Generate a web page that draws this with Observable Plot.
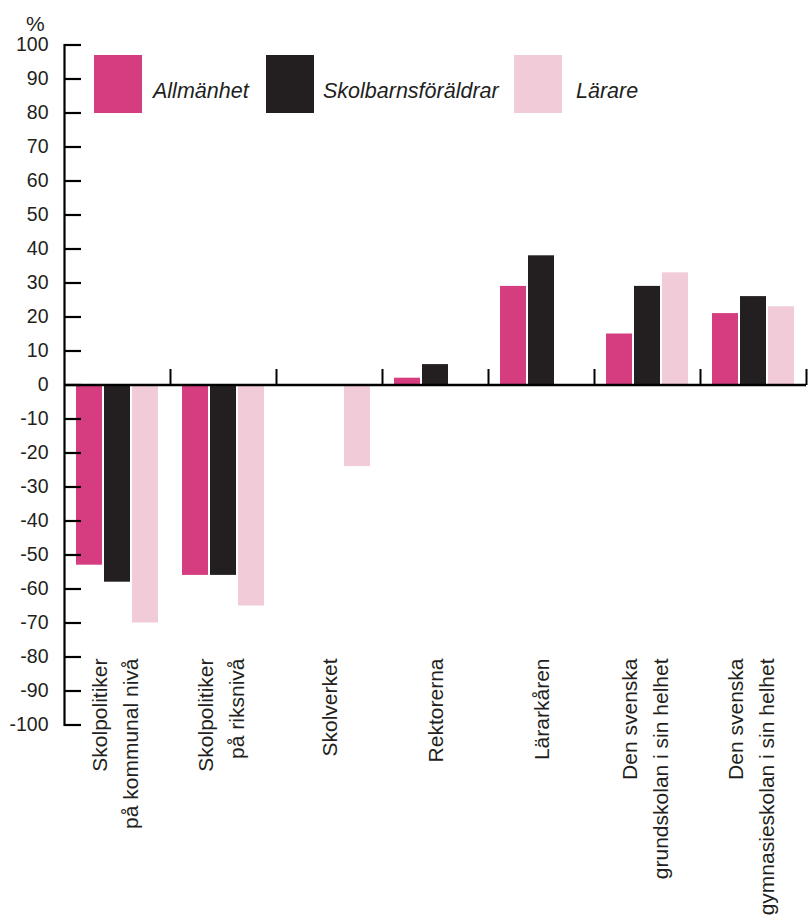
<!DOCTYPE html>
<html>
<head>
<meta charset="utf-8">
<script src="https://cdn.jsdelivr.net/npm/d3@7"></script>
<script src="https://cdn.jsdelivr.net/npm/@observablehq/plot@0.6"></script>
<style>
  body { margin: 0; background: #fff; }
  #wrap { position: relative; width: 809px; height: 922px; font-family: "Liberation Sans", Arial, sans-serif; color: #231f20; }
  #wrap svg { position: absolute; left: 0; top: 0; overflow: visible; }
  .pct { position: absolute; left: 26px; top: 13px; font-size: 21px; line-height: 1; }
  .sw { position: absolute; top: 55px; width: 48px; height: 58px; }
  .lab { position: absolute; top: 81px; font-size: 21.5px; line-height: 1; font-style: italic; white-space: nowrap; }
</style>
</head>
<body>
<div id="wrap"><div class="pct">%</div></div>
<script>
const categories = [
  "Skolpolitiker\npå kommunal nivå",
  "Skolpolitiker\npå riksnivå",
  "Skolverket",
  "Rektorerna",
  "Lärarkåren",
  "Den svenska\ngrundskolan i sin helhet",
  "Den svenska\ngymnasieskolan i sin helhet"
];
const seriesNames = ["Allmänhet", "Skolbarnsföräldrar", "Lärare"];
const allmanhet = [-53, -56, null, 2, 29, 15, 21];
const foraldrar = [-58, -56, null, 6, 38, 29, 26];
const larare    = [-70, -65, -24, null, null, 33, 23];
const yTicks = [-100, -90, -80, -70, -60, -50, -40, -30, -20, -10, 0, 10, 20, 30, 40, 50, 60, 70, 80, 90, 100];
const colors = ["#d63d81", "#231f20", "#f2cbd9"];

const seriesValues = [allmanhet, foraldrar, larare];
const rows = [];
categories.forEach((c, i) => {
  seriesNames.forEach((s, j) => {
    const v = seriesValues[j][i];
    if (v != null) rows.push({cat: c, series: s, value: v});
  });
});

const vTick = {draw(ctx) { ctx.moveTo(0, 0); ctx.lineTo(0, -16); }};
const singleLine = categories.filter(c => !c.includes("\n"));
const multiLine = categories.filter(c => c.includes("\n"));

const chart = Plot.plot({
  width: 809,
  height: 922,
  marginTop: 44.5,
  marginBottom: 197.5,
  marginLeft: 61,
  marginRight: 0,
  style: {fontFamily: "'Liberation Sans', Arial, sans-serif", color: "#231f20", background: "transparent", overflow: "visible"},
  fx: {domain: categories, padding: 0, axis: null},
  x: {domain: seriesNames, paddingInner: 0.06, paddingOuter: 0.41, axis: null},
  y: {domain: [-100, 100], axis: null},
  color: {domain: seriesNames, range: colors},
  marks: [
    Plot.barY(rows, {fx: "cat", x: "series", y: "value", fill: "series"}),
    Plot.ruleY([0], {stroke: "#000", strokeWidth: 2.5}),
    Plot.dot([0], {y: d => d, frameAnchor: "right", symbol: vTick, r: 5, stroke: "#000", strokeWidth: 2, fill: "none"}),
    Plot.frame({anchor: "left", facetAnchor: "left", stroke: "#000", strokeWidth: 2.2}),
    Plot.axisY({ticks: yTicks, tickSize: 17, dx: 17, tickPadding: 16, facetAnchor: "left", fontSize: 19.5, stroke: "#000", strokeWidth: 2.2, tickFormat: d => String(d), label: null}),
    Plot.text(singleLine, {fx: d => d, text: d => d, frameAnchor: "bottom", rotate: -90, textAnchor: "end", lineHeight: 1.43, dy: -66.5, dx: 7, fontSize: 21, fill: "#231f20"}),
    Plot.text(multiLine, {fx: d => d, text: d => d, frameAnchor: "bottom", rotate: -90, textAnchor: "end", lineHeight: 1.43, dy: -66.5, dx: 20, fontSize: 21, fill: "#231f20"})
  ]
});

const wrap = document.getElementById("wrap");
wrap.appendChild(chart);

const swLeft = [94, 266, 514];
const labLeft = [153, 323, 576];
seriesNames.forEach((s, j) => {
  const sw = document.createElement("div");
  sw.className = "sw";
  sw.style.left = swLeft[j] + "px";
  sw.style.background = colors[j];
  wrap.appendChild(sw);
  const lab = document.createElement("div");
  lab.className = "lab";
  lab.style.left = labLeft[j] + "px";
  lab.textContent = s;
  wrap.appendChild(lab);
});
</script>
</body>
</html>
